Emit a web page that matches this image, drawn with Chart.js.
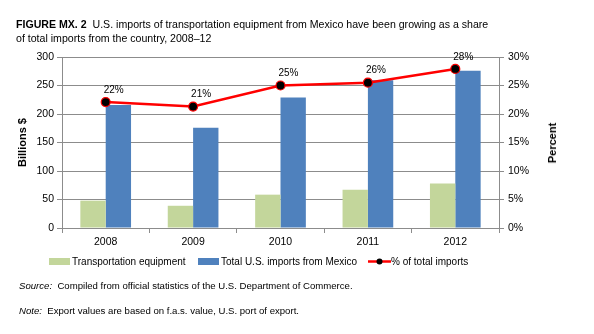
<!DOCTYPE html>
<html>
<head>
<meta charset="utf-8">
<script src="https://cdn.jsdelivr.net/npm/chart.js@4"></script>
<style>
  body{margin:0;background:#fff;font-family:"Liberation Sans",Arial,sans-serif;color:#000;}
  #wrap{position:relative;width:594px;height:334px;overflow:hidden;}
  #chart{position:absolute;left:0;top:0;}
  .title{position:absolute;left:16px;top:18px;font-size:10.6px;line-height:13.5px;width:478px;}
  .ytitle-r{position:absolute;left:552px;top:143px;font-size:11px;font-weight:bold;transform:translate(-50%,-50%) rotate(-90deg);white-space:nowrap;}
  .legend{position:absolute;top:256px;left:0;font-size:10px;white-space:nowrap;}
  .legend span{position:absolute;top:0;}
  .sw{display:inline-block;width:21px;height:7px;margin-right:2px;}
  .note{position:absolute;left:19px;font-size:9.6px;white-space:nowrap;}
</style>
</head>
<body>
<div id="wrap">
  <canvas id="chart" width="594" height="334"></canvas>
  <div class="title"><b>FIGURE MX. 2</b>&nbsp; U.S. imports of transportation equipment from Mexico have been growing as a share of total imports from the country, 2008–12</div>
  <div class="ytitle-r">Percent</div>
  <div class="legend">
    <span style="left:49px"><i class="sw" style="background:#c3d69b"></i>Transportation equipment</span>
    <span style="left:198px"><i class="sw" style="background:#4f81bd"></i>Total U.S. imports from Mexico</span>
    <span style="left:368px"><canvas id="lg" width="23" height="9" style="vertical-align:-1px"></canvas>% of total imports</span>
  </div>
  <div class="note" style="top:280px"><i>Source:</i>&nbsp; Compiled from official statistics of the U.S. Department of Commerce.</div>
  <div class="note" style="top:305px"><i>Note:</i>&nbsp; Export values are based on f.a.s. value, U.S. port of export.</div>
</div>
<script>
const years = ["2008","2009","2010","2011","2012"];
const transportEquip = [48, 39, 58.5, 67, 78];       // billions $
const totalImports = [216, 176, 229, 259, 276];      // billions $
const shareOfTotal = [22.1, 21.3, 25.0, 25.5, 27.9]; // percent
const billionTicks = [0, 50, 100, 150, 200, 250, 300];
const percentTicks = [0, 5, 10, 15, 20, 25, 30];

const FONT = "'Liberation Sans', Arial, sans-serif";
const GRID = "#8c8c8c";

// legend swatch for the line series
const lg = document.getElementById("lg").getContext("2d");
lg.strokeStyle = "#ff0000"; lg.lineWidth = 2.5;
lg.beginPath(); lg.moveTo(0, 4.5); lg.lineTo(23, 4.5); lg.stroke();
lg.fillStyle = "#000"; lg.beginPath(); lg.arc(11.5, 4.5, 3, 0, Math.PI * 2); lg.fill();

// percent labels above the line points
const pctLabels = {
  id: "pctLabels",
  afterDatasetsDraw(chart) {
    const meta = chart.getDatasetMeta(2);
    const ctx = chart.ctx;
    ctx.save();
    ctx.font = "10px " + FONT;
    ctx.fillStyle = "#000";
    ctx.textAlign = "center";
    ctx.textBaseline = "middle";
    meta.data.forEach((pt, i) => {
      ctx.fillText(Math.round(shareOfTotal[i]) + "%", pt.x + 8, pt.y - 12);
    });
    ctx.restore();
  }
};

const tickFont = {family: FONT, size: 10.5};

new Chart(document.getElementById("chart"), {
  type: "bar",
  data: {
    labels: years,
    datasets: [
      {label: "Transportation equipment", data: transportEquip, backgroundColor: "#c3d69b", yAxisID: "y", order: 2},
      {label: "Total U.S. imports from Mexico", data: totalImports, backgroundColor: "#4f81bd", yAxisID: "y", order: 2},
      {label: "% of total imports", type: "line", data: shareOfTotal, yAxisID: "y1", order: 0,
       borderColor: "#ff0000", borderWidth: 2.5, tension: 0,
       pointRadius: 4.5, pointBackgroundColor: "#000", pointBorderColor: "#ff0000", pointBorderWidth: 1.2}
    ]
  },
  options: {
    responsive: false,
    animation: false,
    layout: {padding: {top: 57, left: 12, right: 30, bottom: 0}},
    datasets: {bar: {categoryPercentage: 0.58, barPercentage: 1}},
    plugins: {legend: {display: false}, tooltip: {enabled: false}},
    scales: {
      x: {
        grid: {offset: true, drawOnChartArea: false, color: GRID, tickLength: 5},
        border: {color: GRID},
        ticks: {color: "#000", font: tickFont, padding: 3},
        afterFit(s) { s.height = 334 - 228; }
      },
      y: {
        position: "left", min: 0, max: 300,
        afterBuildTicks(s) { s.ticks = billionTicks.map(v => ({value: v})); },
        grid: {color: GRID, tickLength: 5},
        border: {color: GRID},
        ticks: {color: "#000", font: tickFont, padding: 3},
        title: {display: true, text: "Billions $", color: "#000", font: {family: FONT, size: 11, weight: "bold"}},
        afterFit(s) { s.width = 62 - 12; }
      },
      y1: {
        position: "right", min: 0, max: 30,
        afterBuildTicks(s) { s.ticks = percentTicks.map(v => ({value: v})); },
        grid: {drawOnChartArea: false, color: GRID, tickLength: 5},
        border: {color: GRID},
        ticks: {color: "#000", font: tickFont, padding: 4, callback: v => v + "%"},
        afterFit(s) { s.width = 594 - 30 - 499; }
      }
    }
  },
  plugins: [pctLabels]
});
</script>
</body>
</html>
